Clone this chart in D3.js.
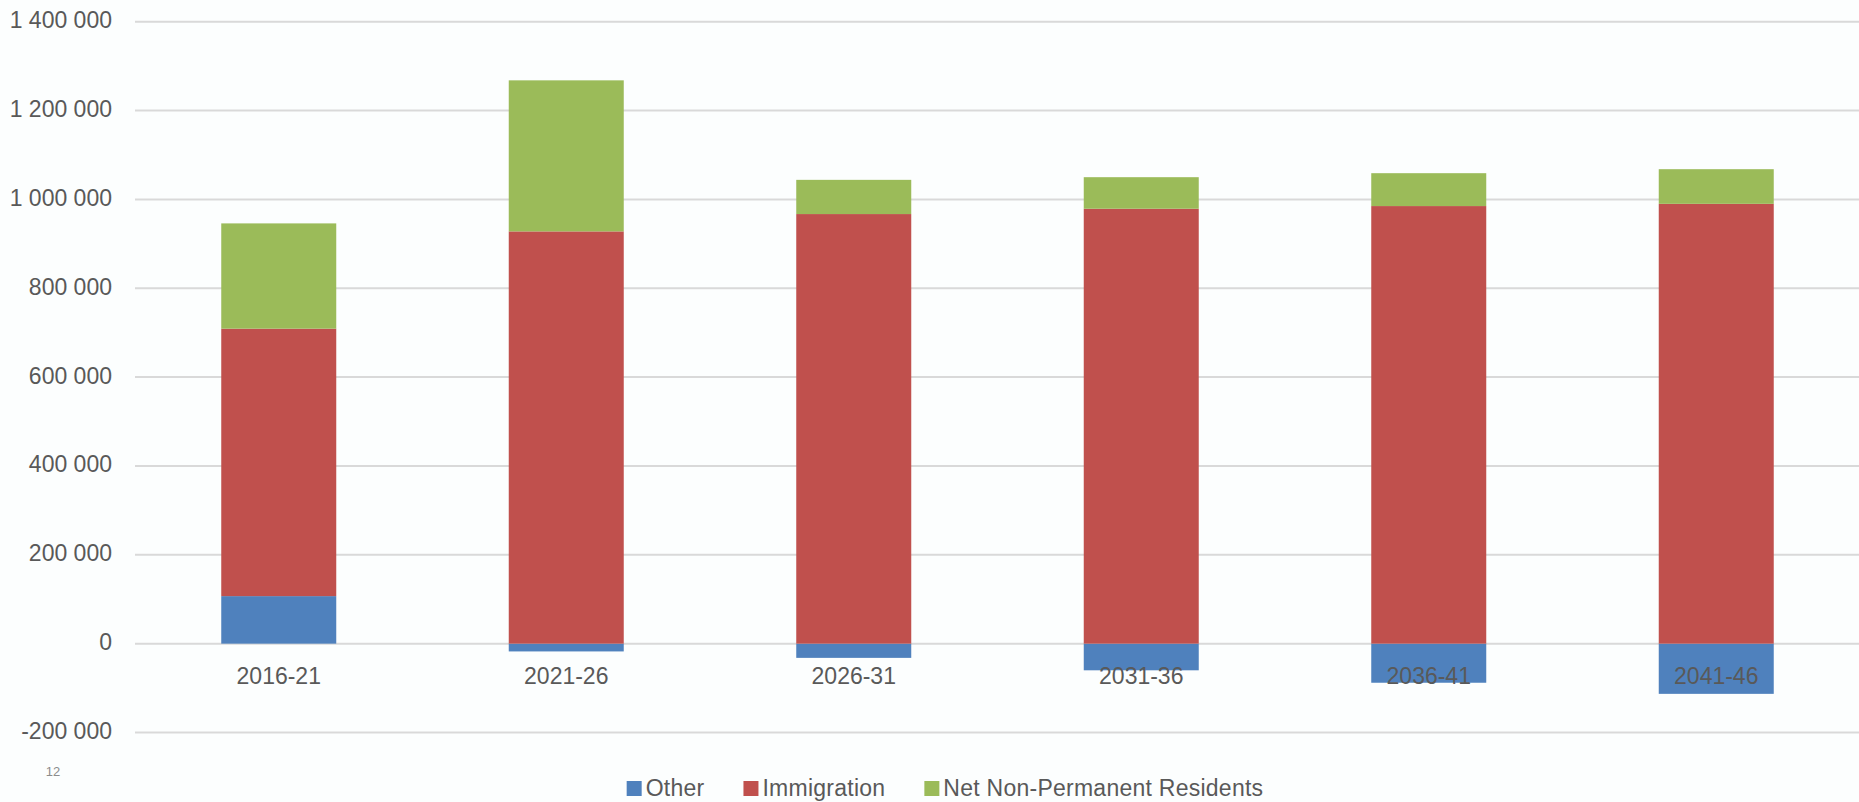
<!DOCTYPE html>
<html>
<head>
<meta charset="utf-8">
<script src="https://cdn.jsdelivr.net/npm/d3@7"></script>
<style>
    html, body { margin: 0; padding: 0; background: #fcfefe; }
    svg { display: block; font-family: "Liberation Sans", Arial, sans-serif; }
</style>
</head>
<body>
<svg id="drawing_region"></svg>
<script>
// values
const periods = ['2016-21', '2021-26', '2026-31', '2031-36', '2036-41', '2041-46'];
const other = [107000, -17500, -32000, -60000, -88000, -113000];
const immigration = [602000, 928000, 967000, 979000, 985000, 990000];
const npr = [237000, 340000, 77000, 71000, 74000, 78000];
const seriesNames = ['Other', 'Immigration', 'Net Non-Permanent Residents'];
const seriesColors = ['#4f81bd', '#c0504d', '#9bbb59'];
const yTicks = [-200000, 0, 200000, 400000, 600000, 800000, 1000000, 1200000, 1400000];

const data = periods.map((p, i) => ({
    period: p,
    'Other': other[i],
    'Immigration': immigration[i],
    'Net Non-Permanent Residents': npr[i]
}));

class StackedBar {

    constructor( config, data ) {
        this.config = {
            parent: config.parent,
            width: config.width || 256,
            height: config.height || 256,
            margin: config.margin || {top:10, right:10, bottom:20, left:60}
        }
        this.data = data;
        this.init();
    }

    init() {
        let self = this;

        self.svg = d3.select( self.config.parent )
            .attr('width', self.config.width)
            .attr('height', self.config.height);

        self.xscale = d3.scaleBand()
            .domain(periods)
            .range([self.config.margin.left, self.config.width - self.config.margin.right])
            .paddingInner(0.6)
            .paddingOuter(0.3);

        self.yscale = d3.scaleLinear()
            .domain([-200000, 1400000])
            .range([732.5, 21.7]);

        self.fmt = v => d3.format(',')(v).replace(/,/g, ' ').replace('−', '-');
    }

    update() {
        let self = this;
        self.stacked = d3.stack()
            .keys(seriesNames)
            .offset(d3.stackOffsetDiverging)(self.data);
        self.render();
    }

    render() {
        let self = this;
        const m = self.config.margin;

        // grid lines
        self.svg.append('g')
            .selectAll('line').data(yTicks).enter()
            .append('line')
            .attr('x1', m.left)
            .attr('x2', self.config.width)
            .attr('y1', d => self.yscale(d))
            .attr('y2', d => self.yscale(d))
            .attr('stroke', '#d9d9d9')
            .attr('stroke-width', 2);

        // y labels
        const yAxis = d3.axisLeft(self.yscale)
            .tickValues(yTicks)
            .tickSize(0)
            .tickPadding(0)
            .tickFormat(self.fmt);
        const yg = self.svg.append('g')
            .attr('transform', 'translate(112,0)')
            .call(yAxis);
        yg.select('.domain').remove();
        yg.selectAll('text')
            .attr('dy', null)
            .attr('y', 6)
            .attr('fill', '#595959')
            .style('font-size', '23px');

        // bars
        self.svg.append('g')
            .selectAll('g').data(self.stacked).enter()
            .append('g')
            .attr('fill', (d, i) => seriesColors[i])
            .selectAll('rect').data(d => d).enter()
            .append('rect')
            .attr('x', d => self.xscale(d.data.period))
            .attr('width', self.xscale.bandwidth())
            .attr('y', d => self.yscale(Math.max(d[0], d[1])))
            .attr('height', d => Math.abs(self.yscale(d[0]) - self.yscale(d[1])));

        // x labels (drawn over the bars, like the original)
        const xAxis = d3.axisBottom(self.xscale).tickSize(0).tickPadding(0);
        const xg = self.svg.append('g')
            .attr('transform', `translate(0,${self.yscale(0)})`)
            .call(xAxis);
        xg.select('.domain').remove();
        xg.selectAll('text')
            .attr('dy', null)
            .attr('y', 40)
            .attr('fill', '#595959')
            .style('font-size', '23px');

        // legend
        const legend = self.svg.append('g');
        const items = legend.selectAll('g').data(seriesNames).enter().append('g');
        items.append('rect')
            .attr('y', 781)
            .attr('width', 15)
            .attr('height', 15)
            .attr('fill', (d, i) => seriesColors[i]);
        items.append('text')
            .attr('x', 19)
            .attr('y', 796)
            .attr('fill', '#595959')
            .style('font-size', '23px')
            .style('letter-spacing', '0.25px')
            .text(d => d);
        let xpos = 0;
        items.each(function() {
            const w = this.querySelector('text').getComputedTextLength();
            d3.select(this).attr('transform', `translate(${xpos},0)`);
            xpos += 19 + w + 39;
        });
        const total = xpos - 39;
        legend.attr('transform', `translate(${945 - total / 2},0)`);

        // page number
        self.svg.append('text')
            .attr('x', 53)
            .attr('y', 776)
            .attr('text-anchor', 'middle')
            .attr('fill', '#8c8c8c')
            .style('font-size', '13px')
            .text('12');
    }
}

var config = {
    parent: '#drawing_region',
    width: 1859,
    height: 802,
    margin: { top:21, right:-1, bottom:70, left:135 },
};

const bar_chart = new StackedBar( config, data );
bar_chart.update();
</script>
</body>
</html>
